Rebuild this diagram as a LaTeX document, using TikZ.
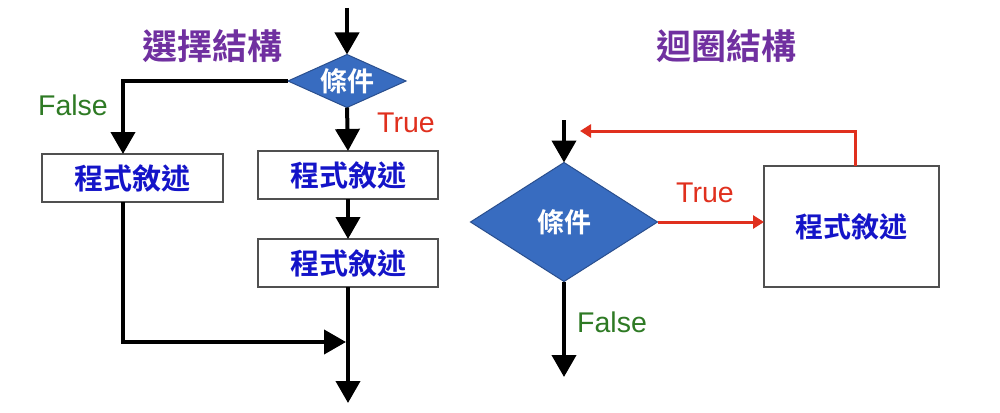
\documentclass[tikz,border=0pt]{standalone}
\usepackage{fontspec}
\setmainfont{Liberation Sans}
\newfontfamily\cjk{Noto Sans CJK TC Bold}
\usetikzlibrary{arrows.meta,shapes.geometric,calc}
\definecolor{titlepurple}{HTML}{7030A0}
\definecolor{falsegreen}{HTML}{2E7A24}
\definecolor{truered}{HTML}{E0301E}
\definecolor{textblue}{HTML}{1414C8}
\definecolor{diafill}{HTML}{386CC0}
\definecolor{diaborder}{HTML}{2A4F8E}
\definecolor{boxborder}{HTML}{505050}
\tikzset{
  x=1pt, y=-1pt,
  titletext/.style={font=\cjk\fontsize{35}{40}\selectfont, text=titlepurple, inner sep=0},
  stmt/.style={draw=boxborder, line width=1.5pt, fill=white, rectangle, inner sep=0, outer sep=0,
     font=\cjk\fontsize{29}{34}\selectfont, text=textblue},
  cond/.style={draw=diaborder, line width=1pt, fill=diafill, diamond, inner sep=0, outer sep=0},
  condtext/.style={font=\cjk\fontsize{27}{31}\selectfont, text=white, inner sep=0},
  flow/.style={line width=4pt, draw=black, -{Triangle[width=24pt,length=22pt]}},
  loopflow/.style={line width=3pt, draw=truered, -{Triangle[width=13pt,length=11pt]}},
  lbltrue/.style={font=\fontsize{28.5}{32}\selectfont, text=truered, inner sep=0},
  lblfalse/.style={font=\fontsize{28.5}{32}\selectfont, text=falsegreen, inner sep=0},
}
\begin{document}
\begin{tikzpicture}
\useasboundingbox[fill=white] (0,0) rectangle (1000,412);
% ---------- selection structure ----------
\node[titletext] (t1) at (212,46) {選擇結構};
\coordinate (in1) at (347,8);
\node[cond, minimum width=118pt, minimum height=53pt] (d1) at (347,81) {};
\node[condtext] (d1t) at (d1.center) {條件};
\node[stmt, minimum width=181pt, minimum height=48pt] (b1) at (132.5,178) {程式敘述};
\node[stmt, minimum width=180pt, minimum height=48pt] (b2) at (348,175) {程式敘述};
\node[stmt, minimum width=180pt, minimum height=48pt] (b3) at (348,263) {程式敘述};
\coordinate (lx) at (123,0);
\coordinate (m) at (346,342);
\coordinate (out1) at (348,403);
\draw[flow] (in1) -- (d1.north);
\draw[flow] (d1.west) -| (lx |- b1.north);
\draw[flow] (d1.south) -- (b2.north);
\draw[flow] (b2.south) -- (b3.north);
\draw[flow] (b3.south) -- (out1);
\draw[flow] (lx |- b1.south) |- (m);
\node[lblfalse] (f1) at (73,105) {False};
\node[lbltrue] (tr1) at (406,123) {True};
% ---------- loop structure ----------
\node[titletext] (t2) at (726,46) {迴圈結構};
\coordinate (in2) at (564,120);
\node[cond, minimum width=187pt, minimum height=119pt] (d2) at (564,222) {};
\node[condtext] (d2t) at (d2.center) {條件};
\node[stmt, minimum width=175pt, minimum height=121pt, font=\cjk\fontsize{28}{33}\selectfont] (b4) at (851.5,226.5) {程式敘述};
\coordinate (lp) at (580,131);
\coordinate (out2) at (564,377);
\draw[flow] (in2) -- (d2.north);
\draw[loopflow] (d2.east) -- (d2.east -| b4.west);
\draw[loopflow] ($(b4.north)+(3.5,0)$) |- (lp);
\draw[flow] (d2.south) -- (out2);
\node[lbltrue] (tr2) at (705,193) {True};
\node[lblfalse] (f2) at (612,322) {False};
\end{tikzpicture}
\end{document}
